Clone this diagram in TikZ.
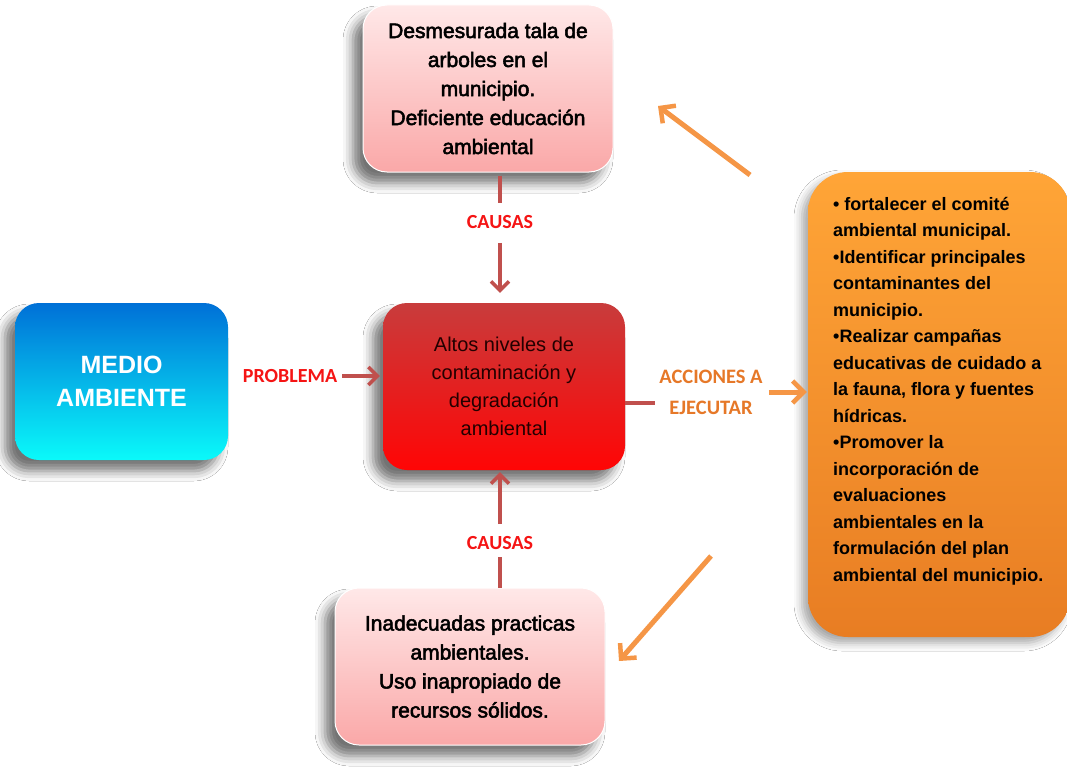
\documentclass[tikz,border=0pt]{standalone}
\usepackage{fontspec}
\setmainfont{Liberation Sans}
\newfontfamily\labfont{Carlito}
\newfontfamily\medfont[FakeBold=2.5]{Liberation Sans}
\usetikzlibrary{arrows.meta,shadows.blur}
\definecolor{conn}{RGB}{192,80,77}
\definecolor{orarr}{RGB}{245,150,70}
\definecolor{labred}{RGB}{245,20,20}
\definecolor{laborg}{RGB}{230,120,40}
\definecolor{bluetop}{RGB}{0,112,215}
\definecolor{bluebot}{RGB}{10,250,250}
\definecolor{redtop}{RGB}{200,60,60}
\definecolor{redbot}{RGB}{255,5,5}
\definecolor{pinktop}{RGB}{255,232,232}
\definecolor{pinkbot}{RGB}{250,168,168}
\definecolor{ortop}{RGB}{255,165,55}
\definecolor{orbot}{RGB}{232,125,35}
\definecolor{midtext}{RGB}{35,0,0}
\tikzset{
  boxshadow/.style={blur shadow={shadow xshift=-10pt, shadow yshift=-11pt, shadow blur radius=10pt, shadow opacity=55}},
  box/.style={rounded corners=24pt, boxshadow, align=center, inner sep=0pt},
  bluebox/.style={box, top color=bluetop, bottom color=bluebot, text=white, font=\fontsize{25}{33}\selectfont\bfseries},
  redbox/.style={box, top color=redtop, bottom color=redbot, text=midtext, font=\fontsize{20}{28}\selectfont},
  pinkbox/.style={box, top color=pinktop, bottom color=pinkbot, draw=white, line width=1pt, font=\medfont\fontsize{21}{29}\selectfont},
  orbox/.style={rounded corners=40pt, blur shadow={shadow xshift=-6pt, shadow yshift=-6pt, shadow blur radius=8pt, shadow opacity=35}, top color=ortop, bottom color=orbot, inner sep=0pt},
  lab/.style={text=labred, font=\labfont\bfseries\fontsize{20}{24}\selectfont, inner sep=2pt},
  olab/.style={text=laborg, font=\labfont\bfseries\fontsize{20.5}{31}\selectfont, align=center, inner sep=2pt},
  cline/.style={draw=conn, line width=4pt},
  carrow/.style={cline, -{Straight Barb[length=9pt,width=18pt,line width=3.5pt]}},
  oarrow/.style={draw=orarr, line width=5pt, -{Straight Barb[length=11pt,width=22pt,line width=4.5pt]}}
}
\begin{document}
\begin{tikzpicture}[x=1pt,y=-1pt]
\useasboundingbox[fill=white] (0,0) rectangle (1067,773);

\node[bluebox, minimum width=213pt, minimum height=157pt] (medio) at (121.5,381.5) {MEDIO\\AMBIENTE};
\node[redbox, minimum width=242pt, minimum height=167pt] (mid) at (504,386.5) {Altos niveles de\\contaminación y\\degradación\\ambiental};
\node[pinkbox, minimum width=250pt, minimum height=167pt] (top) at (488,88.5) {Desmesurada tala de\\arboles en el\\municipio.\\Deficiente educación\\ambiental};
\node[pinkbox, minimum width=270pt, minimum height=157pt] (bot) at (470,666.5) {Inadecuadas practicas\\ambientales.\\Uso inapropiado de\\recursos sólidos.};
\node[orbox, minimum width=262pt, minimum height=465pt] (acc) at (939,404.5) {};
\node[anchor=west, align=left, inner sep=0pt, font=\bfseries\fontsize{18}{26.5}\selectfont] (acct) at (833,391)
{• fortalecer el comité\\ambiental municipal.\\•Identificar principales\\contaminantes del\\municipio.\\•Realizar campañas\\educativas de cuidado a\\la fauna, flora y fuentes\\hídricas.\\•Promover la\\incorporación de\\evaluaciones\\ambientales en la\\formulación del plan\\ambiental del municipio.};

\node[lab] (c1) at (500,222) {CAUSAS};
\node[lab] (c2) at (500,543) {CAUSAS};
\node[lab] (prob) at (290,376) {PROBLEMA};
\node[olab] (acl) at (711,392) {ACCIONES A\\EJECUTAR};

\draw[cline, shorten <=3pt, shorten >=10pt] (c1 |- top.south) -- (c1.north);
\draw[carrow, shorten <=12pt, shorten >=10pt] (c1.south) -- (c1 |- mid.north);
\draw[cline, shorten <=0pt, shorten >=5pt] (c2 |- bot.north) -- (c2.south);
\draw[carrow, shorten <=10pt, shorten >=2pt] (c2.north) -- (c2 |- mid.south);
\draw[carrow, shorten <=3pt, shorten >=3pt] (prob.east) -- (prob -| mid.west);
\coordinate (ae) at (655,403);
\draw[cline] ([yshift=-16.5pt]mid.east) -- (ae);
\draw[oarrow, shorten <=4pt, shorten >=1pt] (acl.east) -- (acl -| acc.west);
\coordinate (d1s) at (750,175);
\coordinate (d1e) at (658,106);
\coordinate (d2s) at (711,556);
\coordinate (d2e) at (619,661);
\draw[oarrow] (d1s) -- (d1e);
\draw[oarrow] (d2s) -- (d2e);
\end{tikzpicture}
\end{document}
